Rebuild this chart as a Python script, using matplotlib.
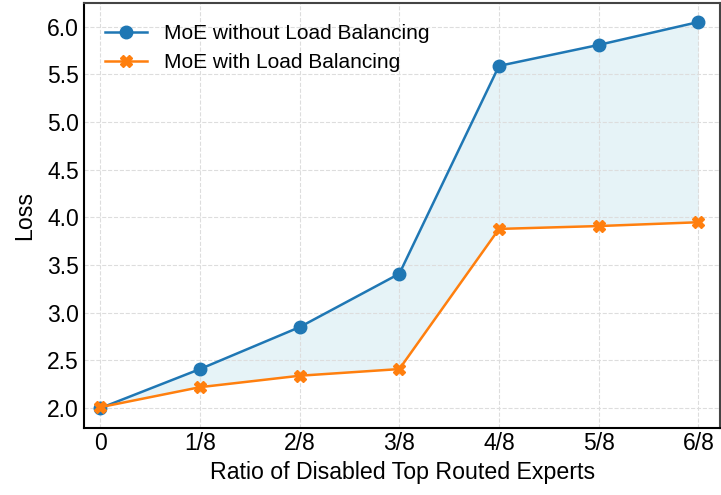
import matplotlib
matplotlib.use("Agg")
import matplotlib.pyplot as plt
import numpy as np

# disabled-expert ratios and the loss of each model variant
ratios = ["0", "1/8", "2/8", "3/8", "4/8", "5/8", "6/8"]
loss_no_lb = [2.00, 2.41, 2.85, 3.41, 5.59, 5.81, 6.05]
loss_lb = [2.01, 2.22, 2.34, 2.41, 3.88, 3.91, 3.95]

plt.rcParams["font.family"] = ["Liberation Sans", "DejaVu Sans"]

fig, ax = plt.subplots(figsize=(7.21, 4.95), dpi=100)
x = np.arange(len(ratios))

ax.fill_between(x, loss_lb, loss_no_lb, color="lightblue", alpha=0.3, linewidth=0)
ax.plot(x, loss_no_lb, marker="o", markersize=9, linewidth=1.8,
        color="#1f77b4", label="MoE without Load Balancing")
ax.plot(x, loss_lb, marker="X", markersize=9, linewidth=1.8,
        color="#ff7f0e", label="MoE with Load Balancing")

ax.set_xticks(x)
ax.set_xticklabels(ratios)
ax.set_yticks(np.arange(2.0, 6.01, 0.5))
ax.set_xlim(-0.16, 6.22)
ax.set_ylim(1.79, 6.25)
ax.tick_params(labelsize=16.5, length=0, pad=4)
ax.tick_params(axis="x", pad=3)
ax.grid(True, linestyle="--", color="#dddddd", linewidth=0.8)

ax.set_xlabel("Ratio of Disabled Top Routed Experts", fontsize=16.7, labelpad=4)
ax.set_ylabel("Loss", fontsize=16.7, labelpad=8)

for side in ["left", "bottom"]:
    ax.spines[side].set_color("black")
    ax.spines[side].set_linewidth(1.5)
for side in ["top", "right"]:
    ax.spines[side].set_color("#444444")
    ax.spines[side].set_linewidth(1.5)

ax.legend(loc="upper left", fontsize=15, frameon=False,
          bbox_to_anchor=(0.0, 1.0), borderaxespad=0.6)

fig.subplots_adjust(left=0.117, right=0.999, top=0.994, bottom=0.135)
fig.savefig("out.png", dpi=100)
